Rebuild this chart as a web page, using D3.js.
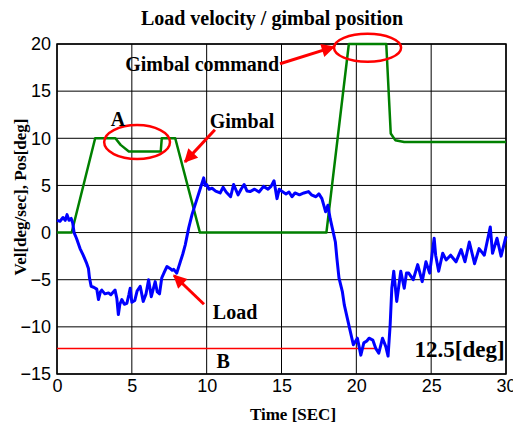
<!DOCTYPE html>
<html>
<head>
<meta charset="utf-8">
<script src="https://cdn.jsdelivr.net/npm/d3@7"></script>
<style>
  body { margin: 0; background: #fff; }
  svg text { fill: #000; }
  .serif { font-family: "Liberation Serif", "Times New Roman", serif; font-weight: bold; }
  .tick text { font-family: "Liberation Sans", Arial, sans-serif; font-size: 18px; }
</style>
</head>
<body>
<svg id="chart" width="513" height="423"></svg>
<script>
// axis ticks
const xTicks = [0, 5, 10, 15, 20, 25, 30];
const yTicks = [-15, -10, -5, 0, 5, 10, 15, 20];

// gimbal position (green)
const gimbalTime = [0, 0.98, 2.55, 3.9, 4.25, 4.8, 6.93, 7.0, 7.9, 9.55, 18.0, 19.5, 22.0, 22.3, 22.6, 23.2, 30];
const gimbalPos  = [0, 0, 10, 10, 9.3, 8.6, 8.6, 10, 10, 0, 0, 20, 20, 10.5, 9.8, 9.6, 9.6];

// load velocity (blue)
const loadTime = [0, 0.2, 0.4, 0.55, 0.67, 0.8, 0.95, 1.05, 1.14, 1.3, 1.54, 1.75, 1.99, 2.1, 2.17, 2.28, 2.45, 2.66, 2.77, 2.9,
  2.99, 3.2, 3.44, 3.6, 3.88, 4.0, 4.1, 4.2, 4.33, 4.5, 4.67, 4.8, 4.89, 5.0, 5.2, 5.35, 5.56, 5.76, 5.95, 6.12,
  6.3, 6.56, 6.7, 6.85, 7.0, 7.2, 7.35, 7.55, 7.7, 7.8, 8.0, 8.24, 8.4, 8.57, 8.8, 9.02, 9.2, 9.36, 9.58, 9.8,
  9.9, 10.0, 10.15, 10.36, 10.6, 10.9, 11.1, 11.3, 11.6, 11.8, 12.1, 12.3, 12.5, 12.7, 12.9, 13.2, 13.5, 13.8, 14.1, 14.3,
  14.5, 14.7, 14.85, 15.05, 15.3, 15.5, 15.7, 15.9, 16.2, 16.5, 16.8, 17.0, 17.3, 17.5, 17.7, 17.95, 18.1, 18.25, 18.4, 18.6,
  18.7, 18.84, 19.07, 19.2, 19.4, 19.6, 19.8, 20.07, 20.3, 20.5, 20.7, 20.85, 21.1, 21.3, 21.5, 21.75, 21.97, 22.12, 22.26, 22.37,
  22.5, 22.7, 22.97, 23.2, 23.35, 23.5, 23.8, 24.1, 24.4, 24.65, 24.9, 25.2, 25.3, 25.5, 25.77, 26.0, 26.3, 26.66, 27.0, 27.26,
  27.55, 27.9, 28.2, 28.55, 28.95, 29.1, 29.4, 29.67, 30];
const loadVel = [1.3, 1.2, 1.6, 1.3, 1.9, 1.3, 1.5, 1.0, 0, -0.6, -1.7, -2.4, -3.3, -3.8, -4.8, -5.7, -5.8, -6.0, -7.1, -6.3,
  -6.1, -6.5, -6.4, -6.6, -6.1, -7.0, -8.7, -7.6, -7.1, -7.6, -7.5, -6.6, -5.9, -7.4, -7.2, -6.2, -5.7, -7.3, -6.5, -5.0,
  -6.8, -5.2, -6.3, -6.5, -4.8, -4.1, -3.6, -3.8, -4.0, -3.9, -4.3, -3.1, -2.3, -1.3, 0.5, 1.9, 2.8, 3.6, 4.7, 5.8,
  5.0, 5.1, 4.6, 4.7, 4.4, 4.2, 4.8, 4.3, 3.8, 5.1, 4.0, 4.6, 5.1, 4.4, 4.35, 4.6, 4.3, 4.9, 4.6, 4.9,
  5.5, 3.6, 4.6, 4.35, 4.1, 4.3, 3.8, 4.2, 4.0, 4.2, 4.35, 4.0, 3.8, 4.1, 3.6, 2.2, 2.9, 1.5, 0.45, -1.0,
  -2.7, -4.8, -6.3, -7.7, -9.1, -10.5, -11.9, -11.2, -13.0, -11.7, -11.5, -11.2, -11.4, -12.3, -12.8, -11.2, -12.1, -13.1, -9.8, -5.9,
  -4.1, -7.3, -4.1, -5.9, -4.3, -4.3, -5.0, -3.4, -5.2, -3.1, -4.3, -0.6, -2.4, -4.1, -2.2, -2.9, -2.4, -3.1, -1.8, -3.1,
  -1.0, -3.3, -1.7, -2.4, 0.6, -2.2, -0.6, -2.5, -0.4];

const bLevel = -12.3;
const bEnd = 21.4;

const svg = d3.select('#chart');
const margin = { left: 57, right: 7, top: 44, bottom: 49 };
const W = 513, H = 423;

const x = d3.scaleLinear().domain([0, 30]).range([margin.left, W - margin.right]);
const y = d3.scaleLinear().domain([-15, 20]).range([H - margin.bottom, margin.top]);

// grid
svg.append('g')
  .selectAll('line.v')
  .data(xTicks)
  .join('line')
  .attr('x1', d => x(d)).attr('x2', d => x(d))
  .attr('y1', y(-15)).attr('y2', y(20))
  .attr('stroke', '#000').attr('stroke-width', 1);
svg.append('g')
  .selectAll('line.h')
  .data(yTicks)
  .join('line')
  .attr('x1', x(0)).attr('x2', x(30))
  .attr('y1', d => y(d)).attr('y2', d => y(d))
  .attr('stroke', '#000').attr('stroke-width', 1);

// axes (labels only)
const xAxis = svg.append('g')
  .attr('transform', `translate(0,${y(-15)})`)
  .call(d3.axisBottom(x).tickValues(xTicks).tickSize(0).tickPadding(5));
xAxis.select('.domain').remove();

const yAxis = svg.append('g')
  .attr('transform', `translate(${x(0)},0)`)
  .call(d3.axisLeft(y).tickValues(yTicks).tickSize(0).tickPadding(6));
yAxis.select('.domain').remove();

svg.append('rect')
  .attr('x', x(0)).attr('y', y(20))
  .attr('width', x(30) - x(0)).attr('height', y(-15) - y(20))
  .attr('fill', 'none').attr('stroke', '#000').attr('stroke-width', 1.5);

const line = d3.line().x(d => x(d[0])).y(d => y(d[1]));

// B reference line
svg.append('line')
  .attr('x1', x(0)).attr('x2', x(bEnd))
  .attr('y1', y(bLevel)).attr('y2', y(bLevel))
  .attr('stroke', '#ff0000').attr('stroke-width', 1.5);

svg.append('path')
  .datum(gimbalTime.map((t, i) => [t, gimbalPos[i]]))
  .attr('d', line)
  .attr('fill', 'none').attr('stroke', '#008000').attr('stroke-width', 2.5)
  .attr('stroke-linejoin', 'round');

svg.append('path')
  .datum(loadTime.map((t, i) => [t, loadVel[i]]))
  .attr('d', line)
  .attr('fill', 'none').attr('stroke', '#0000ff').attr('stroke-width', 3)
  .attr('stroke-linejoin', 'round');

// annotations
svg.append('defs').append('marker')
  .attr('id', 'head')
  .attr('viewBox', '0 0 10 10')
  .attr('refX', 9).attr('refY', 5)
  .attr('markerWidth', 5).attr('markerHeight', 4.5)
  .attr('orient', 'auto')
  .append('path').attr('d', 'M0,0 L10,5 L0,10 Z').attr('fill', '#ff0000');

function arrow(t0, v0, t1, v1) {
  svg.append('line')
    .attr('x1', x(t0)).attr('y1', y(v0))
    .attr('x2', x(t1)).attr('y2', y(v1))
    .attr('stroke', '#ff0000').attr('stroke-width', 3)
    .attr('marker-end', 'url(#head)');
}
function ring(t, v, rt, rv) {
  svg.append('ellipse')
    .attr('cx', x(t)).attr('cy', y(v))
    .attr('rx', x(rt) - x(0)).attr('ry', y(0) - y(rv))
    .attr('fill', 'none').attr('stroke', '#ff0000').attr('stroke-width', 2.5);
}
function label(t, v, txt, size) {
  svg.append('text')
    .attr('class', 'serif')
    .attr('x', x(t)).attr('y', y(v))
    .attr('text-anchor', 'middle').attr('dominant-baseline', 'central')
    .attr('font-size', size)
    .text(txt);
}

ring(20.75, 19.6, 2.24, 1.48);
ring(5.35, 9.6, 2.2, 1.8);
arrow(14.9, 17.9, 18.5, 19.7);
arrow(10.55, 10.9, 8.55, 7.5);
arrow(9.82, -7.6, 7.82, -4.55);

label(9.7, 17.9, 'Gimbal command', 20);
label(4.07, 12.0, 'A', 20);
label(12.36, 11.8, 'Gimbal', 20);
label(11.9, -8.4, 'Load', 20);
label(11.1, -13.6, 'B', 20);
label(26.9, -12.35, '12.5[deg]', 23);

// titles
svg.append('text')
  .attr('class', 'serif')
  .attr('x', 272).attr('y', 18)
  .attr('text-anchor', 'middle').attr('dominant-baseline', 'central')
  .attr('font-size', 20)
  .text('Load velocity / gimbal position');

svg.append('text')
  .attr('class', 'serif')
  .attr('x', 293).attr('y', 414)
  .attr('text-anchor', 'middle').attr('dominant-baseline', 'central')
  .attr('font-size', 17)
  .text('Time [SEC]');

svg.append('text')
  .attr('class', 'serif')
  .attr('transform', 'translate(20,197) rotate(-90)')
  .attr('text-anchor', 'middle').attr('dominant-baseline', 'central')
  .attr('font-size', 17)
  .text('Vel[deg/sec], Pos[deg]');
</script>
</body>
</html>
